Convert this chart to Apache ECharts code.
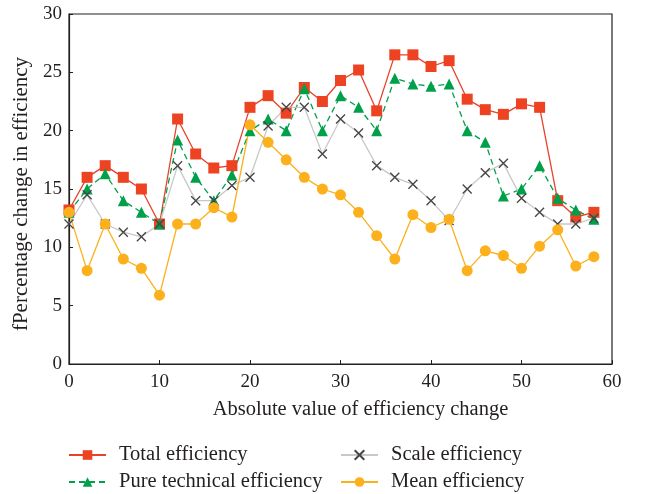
<!DOCTYPE html>
<html>
<head>
<meta charset="utf-8">
<script src="https://cdn.jsdelivr.net/npm/echarts@6/dist/echarts.min.js"></script>
<style>
  html, body { margin: 0; padding: 0; background: #fff; }
  #chart { width: 646px; height: 494px; }
</style>
</head>
<body>
<div id="chart"></div>
<script>
// x positions (absolute value of efficiency change)
const xValues = [0, 2, 4, 6, 8, 10, 12, 14, 16, 18, 20, 22, 24, 26, 28, 30, 32, 34, 36, 38, 40, 42, 44, 46, 48, 50, 52, 54, 56, 58];

const totalEff = [13.2, 16, 17, 16, 15, 12, 21, 18, 16.8, 17, 22, 23, 21.5, 23.7, 22.5, 24.3, 25.2, 21.7, 26.5, 26.5, 25.5, 26, 22.7, 21.8, 21.4, 22.3, 22, 14, 12.6, 13];
const pureTechEff = [13, 15, 16.3, 14, 13, 12, 19.2, 16, 14, 16.2, 20, 21, 20, 23.6, 20, 23, 22, 20, 24.5, 24, 23.8, 24, 20, 19, 14.4, 15, 17, 14.2, 13.2, 12.4];
const scaleEff = [12, 14.5, 12, 11.3, 10.9, 12, 17, 14, 14, 15.3, 16, 20.4, 22, 22, 18, 21, 19.8, 17, 16, 15.4, 14, 12.3, 15, 16.4, 17.2, 14.2, 13, 12, 12, 12.5];
const meanEff = [13, 8, 12, 9, 8.2, 5.9, 12, 12, 13.4, 12.6, 20.5, 19, 17.5, 16, 15, 14.5, 13, 11, 9, 12.8, 11.7, 12.4, 8, 9.7, 9.3, 8.2, 10.1, 11.5, 8.4, 9.2];

const seriesNames = ["Total efficiency", "Pure technical efficiency", "Scale efficiency", "Mean efficiency"];

function pairs(ys) {
  return xValues.map((x, i) => [x, ys[i]]);
}

const serif = "'Liberation Serif', 'DejaVu Serif', serif";
const crossPath = "path://M0,0L10,10M10,0L0,10";

// one legend per entry so the 2x2 block can be placed exactly
const legendSpots = [
  [68, 444],
  [68, 471],
  [340, 444],
  [340, 471],
];
const legends = seriesNames.map((name, i) => ({
  data: [name],
  left: legendSpots[i][0],
  top: legendSpots[i][1],
  padding: 0,
  itemWidth: 37,
  itemHeight: 12,
  textStyle: {
    fontFamily: serif,
    fontSize: 20.5,
    lineHeight: 22,
    color: "#231f20",
    padding: [0, 0, 0, 8],
  },
}));

let myChart = echarts.init(document.getElementById("chart"));
myChart.setOption({
  animation: false,
  textStyle: { fontFamily: serif },
  legend: legends,
  grid: {
    left: 69,
    right: 34,
    top: 14,
    bottom: 130,
    show: true,
    borderColor: "#231f20",
    borderWidth: 1.2,
  },
  xAxis: {
    type: "value",
    min: 0,
    max: 60,
    interval: 10,
    name: "Absolute value of efficiency change",
    nameLocation: "middle",
    nameGap: 35,
    nameTextStyle: { fontFamily: serif, fontSize: 20.5, color: "#231f20", padding: [0, 0, 0, 40] },
    axisLine: { show: true, lineStyle: { color: "#231f20", width: 1.2 } },
    axisTick: { show: true, inside: true, length: 4, lineStyle: { color: "#231f20" } },
    axisLabel: { fontFamily: serif, fontSize: 19, color: "#231f20", margin: 9 },
    splitLine: { show: false },
  },
  yAxis: {
    type: "value",
    min: 0,
    max: 30,
    interval: 5,
    name: "fPercentage change in efficiency",
    nameLocation: "middle",
    nameGap: 32,
    nameTextStyle: { fontFamily: serif, fontSize: 21, color: "#231f20", padding: [0, 10, 0, 0] },
    axisLine: { show: true, lineStyle: { color: "#231f20", width: 1.2 } },
    axisTick: { show: true, inside: true, length: 4, lineStyle: { color: "#231f20" } },
    axisLabel: { fontFamily: serif, fontSize: 19, color: "#231f20", margin: 7 },
    splitLine: { show: false },
  },
  series: [
    {
      name: seriesNames[0],
      type: "line",
      data: pairs(totalEff),
      symbol: "rect",
      symbolSize: 11,
      lineStyle: { color: "#e8412a", width: 1.3 },
      itemStyle: { color: "#ee4323" },
    },
    {
      name: seriesNames[1],
      type: "line",
      data: pairs(pureTechEff),
      symbol: "triangle",
      symbolSize: 11,
      lineStyle: { color: "#00a04a", width: 1.3, type: [6, 4] },
      itemStyle: { color: "#00a04a" },
    },
    {
      name: seriesNames[2],
      type: "line",
      data: pairs(scaleEff),
      symbol: crossPath,
      symbolSize: 9,
      lineStyle: { color: "#c8c8c8", width: 1.3 },
      itemStyle: { color: "none", borderColor: "#444", borderWidth: 1.3 },
    },
    {
      name: seriesNames[3],
      type: "line",
      data: pairs(meanEff),
      symbol: "circle",
      symbolSize: 11,
      lineStyle: { color: "#fbb01c", width: 1.3 },
      itemStyle: { color: "#fbb01c" },
    },
  ],
});
</script>
</body>
</html>
